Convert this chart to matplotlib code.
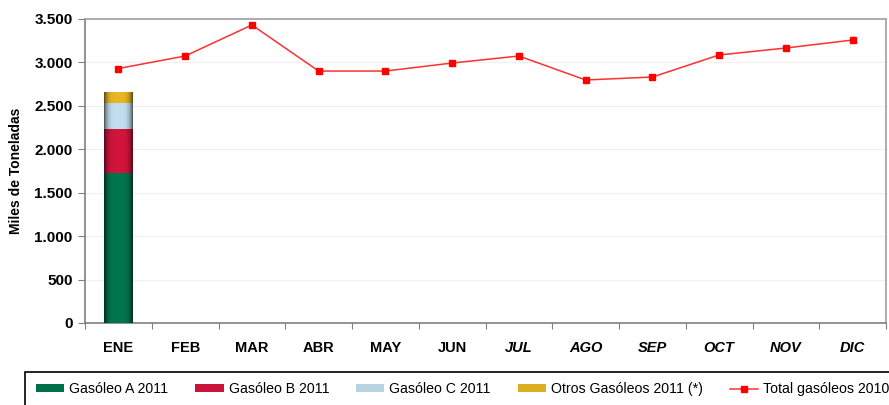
import matplotlib.pyplot as plt
import numpy as np
from matplotlib.ticker import FuncFormatter
from matplotlib.lines import Line2D
from matplotlib.patches import Patch, Rectangle

plt.rcParams["font.family"] = ["Liberation Sans", "DejaVu Sans"]

months = ["ENE", "FEB", "MAR", "ABR", "MAY", "JUN", "JUL", "AGO", "SEP", "OCT", "NOV", "DIC"]
gasoleo_a_2011 = [1727]
gasoleo_b_2011 = [507]
gasoleo_c_2011 = [299]
otros_2011 = [126]
total_2010 = [2930, 3074, 3431, 2901, 2901, 2993, 3074, 2798, 2832, 3086, 3166, 3258]

series = [
    ("Gasóleo A 2011", gasoleo_a_2011, "#00704a"),
    ("Gasóleo B 2011", gasoleo_b_2011, "#c8143a"),
    ("Gasóleo C 2011", gasoleo_c_2011, "#b9d3e3"),
    ("Otros Gasóleos 2011 (*)", otros_2011, "#dcae22"),
]


def shade(color, n=64):
    # dark edges, lighter middle, like the cylinder shading of the original
    rgb = np.array(plt.matplotlib.colors.to_rgb(color))
    t = np.linspace(-1, 1, n)
    f = 0.4 + 0.65 * (1 - t ** 4)
    return np.clip(rgb[None, None, :] * f[None, :, None], 0, 1)


fig = plt.figure(figsize=(8.89, 4.05), dpi=100)
ax = fig.add_axes([85 / 889, 82 / 405, 801 / 889, 304 / 405])

x = np.arange(len(months))
width = 0.42
bottom = np.zeros(1)
handles = []
for label, vals, color in series:
    vals = np.array(vals, dtype=float)
    bars = ax.bar(x[: len(vals)], vals, width, bottom=bottom, color=color, zorder=2)
    for b in bars:
        x0, y0 = b.get_x(), b.get_y()
        img = ax.imshow(shade(color), extent=[x0, x0 + b.get_width(), y0, y0 + b.get_height()],
                        aspect="auto", zorder=3, interpolation="bilinear")
        img.set_clip_path(b)
    bottom = bottom + vals
    handles.append(Patch(facecolor=color, label=label))

ax.plot(x, total_2010, color="#ff3030", lw=1.1, marker="s", ms=4.5,
        mfc="#ff0000", mec="#ff0000", zorder=4)
handles.append(Line2D([], [], color="#ff3030", lw=1.1, marker="s", ms=4,
                      mfc="#ff0000", mec="#ff0000", label="Total gasóleos 2010"))

ax.set_xlim(-0.5, len(months) - 0.5)
ax.set_ylim(0, 3500)
ax.set_yticks(np.arange(0, 3501, 500))
ax.yaxis.set_major_formatter(FuncFormatter(lambda v, p: f"{int(v):,}".replace(",", ".")))
ax.set_xticks(np.arange(-0.5, len(months), 1))
ax.set_xticklabels([])
ax.set_xticks(x, minor=True)
ax.set_xticklabels(months, minor=True)
ax.tick_params(axis="x", which="minor", length=0, pad=13)
ax.tick_params(axis="x", which="major", length=4, color="#808080")
ax.tick_params(axis="y", length=5, color="#808080", pad=4)
for i, t in enumerate(ax.get_xticklabels(minor=True)):
    t.set_fontweight("bold")
    t.set_fontsize(10.5)
    if i >= 6:
        t.set_fontstyle("italic")
for t in ax.get_yticklabels():
    t.set_fontweight("bold")
    t.set_fontsize(11)

ax.grid(axis="y", color="#f0f0f0", lw=0.8, zorder=0)
for s in ["top", "right"]:
    ax.spines[s].set_color("#a0a0a0")
    ax.spines[s].set_linewidth(1.2)
for s in ["left", "bottom"]:
    ax.spines[s].set_color("#808080")
    ax.spines[s].set_linewidth(1.2)

ax.set_ylabel("Miles de Toneladas", fontsize=10, fontweight="bold", labelpad=8)

# legend frame runs off the right and bottom edges in the original
fig.patches.append(Rectangle((25 / 889, -0.05), 900 / 889, 0.05 + 1 - 372 / 405,
                             transform=fig.transFigure, fill=False,
                             edgecolor="black", lw=1.2))
leg = fig.legend(handles=handles, loc="center left", ncol=5,
                 bbox_to_anchor=(36 / 889, 1 - 389 / 405),
                 frameon=False, fontsize=10.2,
                 handlelength=2.0, handleheight=0.45, handletextpad=0.35,
                 columnspacing=1.9, borderaxespad=0, borderpad=0)

fig.savefig("out.png", dpi=100)
